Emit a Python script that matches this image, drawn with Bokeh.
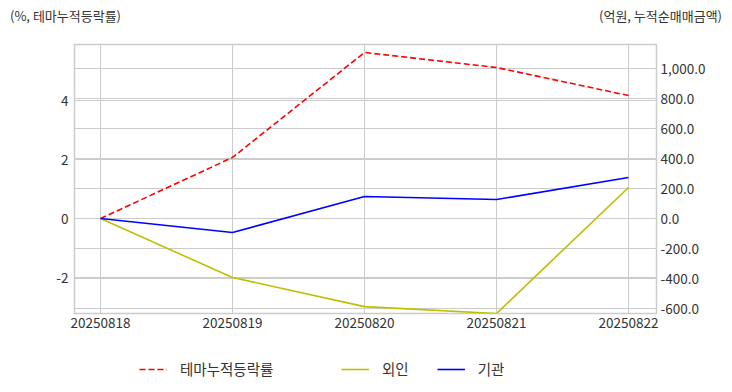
from bokeh.plotting import figure
from bokeh.layouts import column
from bokeh.models import (Range1d, LinearAxis, FixedTicker, Grid, NumeralTickFormatter,
                          Legend, LegendItem, Div)
from bokeh.embed import file_html
from bokeh.resources import INLINE

dates = ["20250818", "20250819", "20250820", "20250821", "20250822"]
theme_cum = [0.0, 2.07, 5.63, 5.12, 4.17]
foreign = [0.0, -393.0, -587.0, -633.0, 207.0]
institution = [0.0, -93.0, 147.0, 127.0, 273.0]
left_ticks = [-2, 0, 2, 4]
right_ticks = [-600, -400, -200, 0, 200, 400, 600, 800, 1000]
left_caption = "(%, 테마누적등락률)"
right_caption = "(억원, 누적순매매금액)"
series_names = ["테마누적등락률", "외인", "기관"]

FONT = "Noto Sans CJK KR"
TXT = "#333333"
GRID = "#cccccc"
RED, YEL, BLU = "#ff0000", "#bfbf00", "#0000ff"
DASH = "6 3"

xs = list(range(len(dates)))

p = figure(width=732, height=310, output_backend="svg", toolbar_location=None,
           x_range=Range1d(-0.197, 4.212), y_range=Range1d(-3.22, 5.9),
           min_border_left=74, min_border_right=76, min_border_top=14, min_border_bottom=27)
p.extra_y_ranges = {"right": Range1d(-633, 1160)}
p.outline_line_color = GRID
p.outline_line_width = 1.5
p.background_fill_color = "white"
p.border_fill_color = "white"

raxis = LinearAxis(y_range_name="right", ticker=FixedTicker(ticks=right_ticks),
                   formatter=NumeralTickFormatter(format="0,0.0"))
p.add_layout(raxis, "right")

p.xaxis.ticker = FixedTicker(ticks=xs)
p.xaxis.major_label_overrides = {i: d for i, d in enumerate(dates)}
p.yaxis[0].ticker = FixedTicker(ticks=left_ticks)
p.yaxis[0].major_label_overrides = {t: str(t) for t in left_ticks}
for ax in (p.xaxis[0], p.yaxis[0], raxis):
    ax.axis_line_color = None
    ax.major_tick_line_color = None
    ax.minor_tick_line_color = None
    ax.major_tick_out = 0
    ax.major_tick_in = 0
    ax.minor_tick_out = 0
    ax.major_label_text_font = FONT
    ax.major_label_text_font_size = "13.5px"
    ax.major_label_text_color = TXT
p.xaxis.major_label_standoff = 4
p.yaxis[0].major_label_standoff = 6
raxis.major_label_standoff = 4

# grids
p.xgrid.ticker = FixedTicker(ticks=xs)
p.xgrid.grid_line_color = GRID
p.ygrid.grid_line_color = GRID
p.ygrid.ticker = FixedTicker(ticks=left_ticks)
rgrid = Grid(dimension=1, ticker=FixedTicker(ticks=right_ticks), y_range_name="right",
             grid_line_color=GRID)
p.add_layout(rgrid)

# lines
p.line(xs, theme_cum, line_color=RED, line_width=1.6, line_dash=DASH)
p.line(xs, foreign, line_color=YEL, line_width=1.6, y_range_name="right")
p.line(xs, institution, line_color=BLU, line_width=1.6, y_range_name="right")

# legend strip: a separate figure (its ranges keep the proxy lines out of view)
lf = figure(width=732, height=52, output_backend="svg", toolbar_location=None,
            x_range=Range1d(100, 101), y_range=Range1d(100, 101),
            x_axis_location=None, y_axis_location=None, min_border=0)
lf.outline_line_color = None
lf.grid.visible = False
lr1 = lf.line(xs, theme_cum, line_color=RED, line_width=1.6, line_dash=DASH)
lr2 = lf.line(xs, foreign, line_color=YEL, line_width=1.6)
lr3 = lf.line(xs, institution, line_color=BLU, line_width=1.6)

def mk_legend(items, loc):
    return Legend(items=items, location=loc, orientation="horizontal",
                  background_fill_alpha=0, border_line_color=None,
                  label_text_font=FONT, label_text_font_size="14.5px", label_text_color=TXT,
                  glyph_width=28, glyph_height=16, label_standoff=13, spacing=28,
                  padding=0, margin=0)

lf.add_layout(mk_legend([LegendItem(label=series_names[0], renderers=[lr1])], (65, 13)))
lf.add_layout(mk_legend([LegendItem(label=series_names[1], renderers=[lr2]),
                         LegendItem(label=series_names[2], renderers=[lr3])], (267, 13)))

header = Div(
    text=(f'<div style="display:flex;justify-content:space-between;width:712px;'
          f'margin:0 0 0 10px;padding-top:7px;'
          f'font-family:\'{FONT}\';font-size:13px;color:{TXT};line-height:18px;">'
          f'<span>{left_caption}</span><span>{right_caption}</span></div>'),
    width=732, height=30, margin=0)

layout = column(header, p, lf, spacing=0)
open("out.html", "w").write(file_html(layout, INLINE))
